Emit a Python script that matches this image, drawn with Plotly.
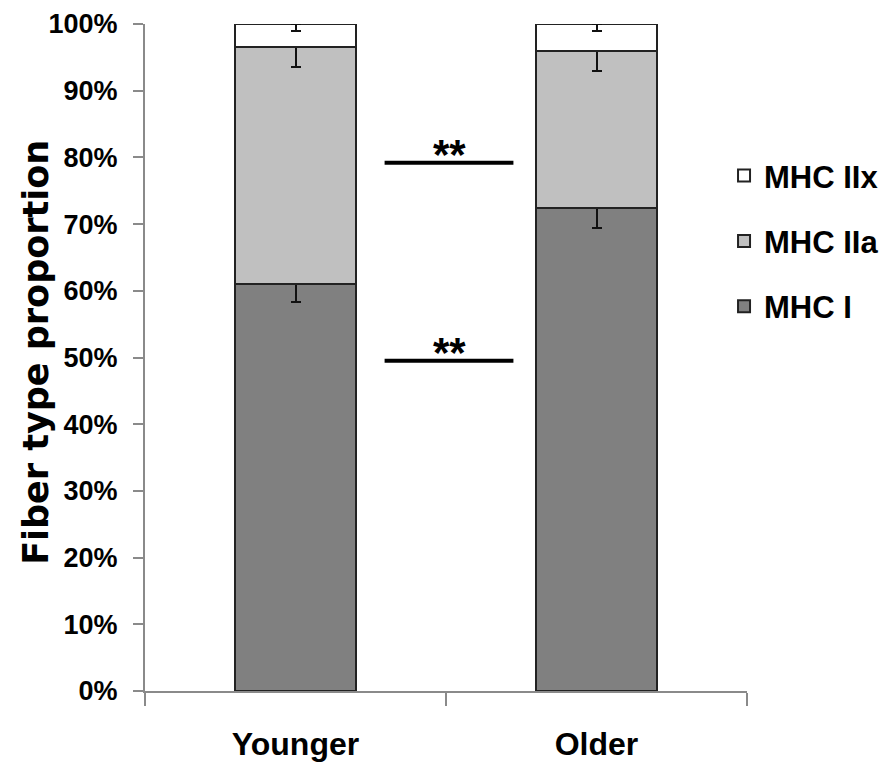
import plotly.graph_objects as go

groups = ["Younger", "Older"]
series_names = ["MHC I", "MHC IIa", "MHC IIx"]
mhc_i = [0.610, 0.724]
mhc_iia = [0.355, 0.235]
mhc_iix = [0.035, 0.041]
err_i = [0.027, 0.030]
err_iia = [0.029, 0.029]
err_iix = [0.010, 0.010]
colors = ["#808080", "#c0c0c0", "#ffffff"]
legend_ranks = [3, 2, 1]

sig_levels = [0.792, 0.495]
sig_labels = ["**", "**"]
sig_x = [0.296, 0.724]

FONT = "Liberation Sans, Arial, sans-serif"

fig = go.Figure()
for name, vals, errs, col, rk in zip(series_names, [mhc_i, mhc_iia, mhc_iix],
                                      [err_i, err_iia, err_iix], colors, legend_ranks):
    fig.add_trace(go.Bar(
        x=groups, y=vals, name=name, legendgroup=name, legendrank=rk,
        marker=dict(color=col, line=dict(color="#222222", width=2)),
        error_y=dict(type="data", symmetric=False, array=[0] * len(errs),
                     arrayminus=errs, color="#111111", thickness=2, width=5),
    ))

for lvl, lab in zip(sig_levels, sig_labels):
    fig.add_shape(type="line", xref="x", yref="y", x0=sig_x[0], x1=sig_x[1],
                  y0=lvl, y1=lvl, line=dict(color="black", width=4))
    fig.add_annotation(x=(sig_x[0] + sig_x[1]) / 2, y=lvl, xref="x", yref="y",
                       text=lab, showarrow=False, yanchor="bottom", yshift=-17,
                       font=dict(size=42, color="black", family=FONT, weight="bold"))

fig.add_annotation(text="Fiber type proportion", xref="paper", yref="paper",
                   x=-0.181, y=0.507, xanchor="center", yanchor="middle",
                   textangle=-90, showarrow=False,
                   font=dict(size=35, family="DejaVu Sans, sans-serif", weight="bold",
                             color="black"))

fig.update_layout(
    width=879, height=762,
    barmode="stack", bargap=0.6,
    plot_bgcolor="white", paper_bgcolor="white",
    margin=dict(l=137, r=140, t=16, b=79, autoexpand=False),
    font=dict(family=FONT, color="black"),
    legend=dict(xref="container", yref="container", x=0.8146, xanchor="left",
                y=0.815, yanchor="top",
                traceorder="grouped", tracegroupgap=22,
                font=dict(size=31, family=FONT, weight="bold")),
    xaxis=dict(range=[-0.5, 1.5], showline=True, linecolor="#8a8a8a", linewidth=2,
               ticks="outside", tickson="boundaries", ticklen=13, tickcolor="#8a8a8a",
               tickwidth=2, showgrid=False, automargin=False,
               tickfont=dict(size=32, family=FONT, weight="bold"),
               ticklabelstandoff=24),
    yaxis=dict(range=[0, 1], dtick=0.1, tickformat=".0%", showline=True,
               linecolor="#8a8a8a", linewidth=2, ticks="outside", ticklen=10,
               tickcolor="#8a8a8a", tickwidth=2, showgrid=False, zeroline=False,
               automargin=False,
               tickfont=dict(size=27, family=FONT, weight="bold"),
               ticklabelstandoff=10),
)

fig.write_html("out.html")
